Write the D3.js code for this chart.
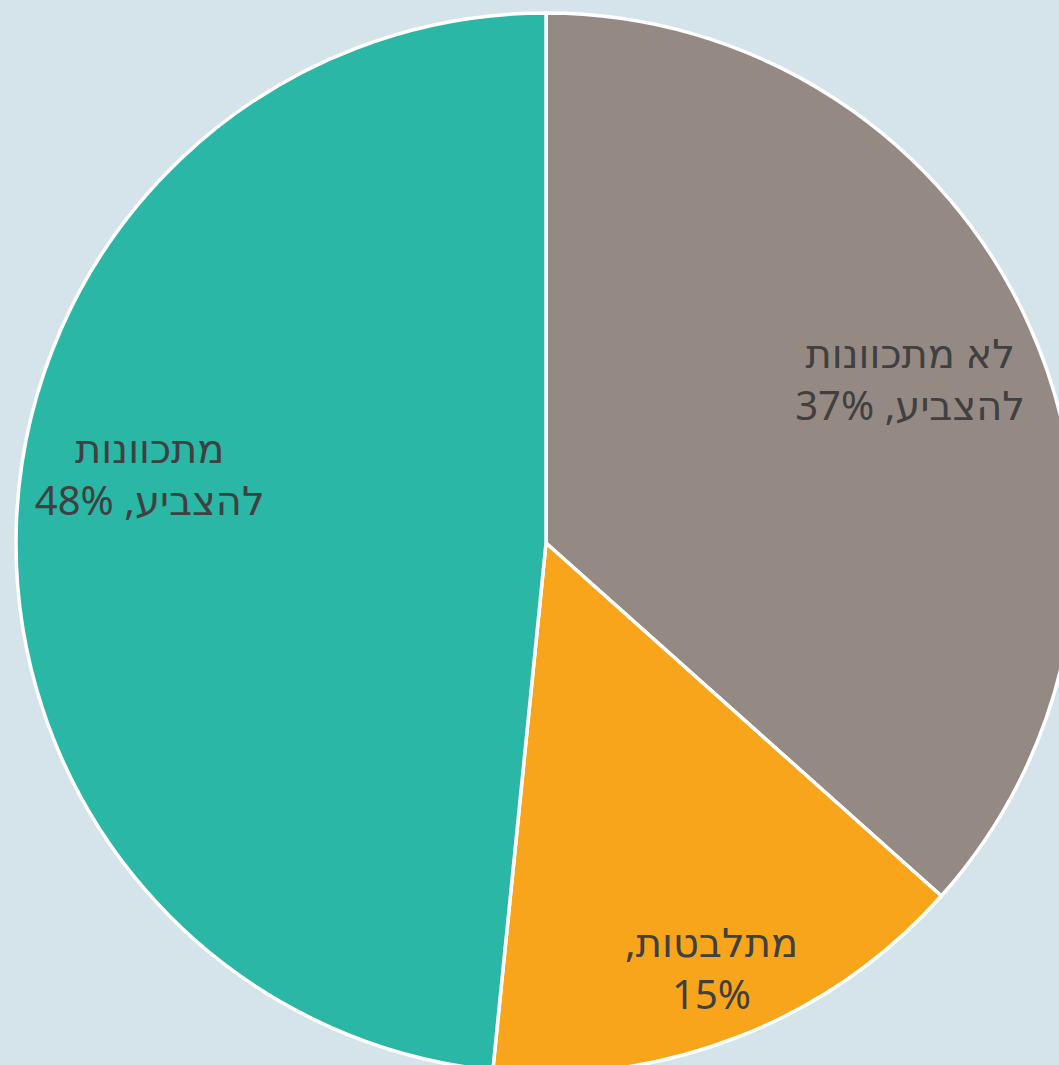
<!DOCTYPE html>
<html>
<head>
<meta charset="utf-8">
<script src="https://cdn.jsdelivr.net/npm/d3@7"></script>
<style>
  html, body { margin: 0; padding: 0; background: #d5e4ea; }
  svg { display: block; }
  .lbl { font-family: "Noto Sans", "DejaVu Sans", sans-serif; font-size: 40px; fill: #404040; }
</style>
</head>
<body>
<div id="chart"></div>
<script>
var svgWidth = 1059;
var svgHeight = 1065;

// data (clockwise from 12 o'clock)
var categories = ["לא מתכוונות להצביע", "מתלבטות", "מתכוונות להצביע"];
var values = [36.6, 15.0, 48.4];
var colors = ["#958984", "#f9a51b", "#2ab7a5"];

// label placement: radius and angle nudge (degrees) per slice
var labelRadius = [399, 457, 402];
var labelNudge = [0, 0, 6.8];

var cx = 546, cy = 543, radius = 530;

var svg = d3.select("#chart")
  .append("svg")
  .attr("width", svgWidth)
  .attr("height", svgHeight);

var g = svg.append("g")
  .attr("transform", `translate(${cx}, ${cy})`);

var pie = d3.pie().sort(null).value(d => d);
var arcs = pie(values);

var arc = d3.arc().innerRadius(0).outerRadius(radius);

g.selectAll("path")
  .data(arcs)
  .enter()
  .append("path")
  .attr("d", arc)
  .attr("fill", (d, i) => colors[i])
  .attr("stroke", "#ffffff")
  .attr("stroke-width", 3.5)
  .attr("stroke-linejoin", "round");

var total = d3.sum(values);
var pct = d3.format(".0%");
var maxWidth = 240;
var lineHeight = 52;

arcs.forEach(function(d, i) {
  var mid = (d.startAngle + d.endAngle) / 2 + labelNudge[i] * Math.PI / 180;
  var x = Math.sin(mid) * labelRadius[i];
  var y = -Math.cos(mid) * labelRadius[i];

  var text = categories[i] + ", " + pct(values[i] / total);
  var words = text.split(" ");

  // greedy wrap
  var probe = g.append("text").attr("class", "lbl").attr("direction", "rtl");
  var lines = [];
  var cur = "";
  words.forEach(function(w) {
    var test = cur ? cur + " " + w : w;
    probe.text(test);
    if (cur && probe.node().getComputedTextLength() > maxWidth) {
      lines.push(cur);
      cur = w;
    } else {
      cur = test;
    }
  });
  lines.push(cur);
  probe.remove();

  var t = g.append("text")
    .attr("class", "lbl")
    .attr("direction", "rtl")
    .attr("text-anchor", "middle")
    .attr("x", x)
    .attr("y", y);

  t.selectAll("tspan")
    .data(lines)
    .enter()
    .append("tspan")
    .attr("x", x)
    .attr("y", (l, k) => y + (k - (lines.length - 1) / 2) * lineHeight)
    .attr("dy", "0.35em")
    .text(l => l);
});
</script>
</body>
</html>
